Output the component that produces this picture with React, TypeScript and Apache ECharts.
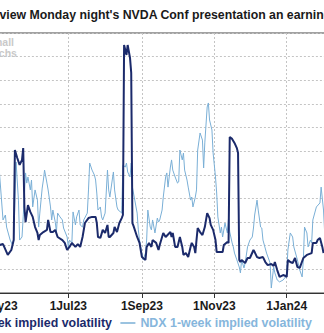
import React, { useEffect, useRef } from 'react';
import * as echarts from 'echarts';

const startDate = '2023-05-01';
const endDate = '2024-02-10';

const seriesNames = ['NVDA 1-week implied volatility', 'NDX 1-week implied volatility'];
const titleText = "Options preview Monday night's NVDA Conf presentation an earnings";
const watermarkText = 'Small\nSachs';
const monthAbbr = ['Jan', 'Feb', 'Mar', 'Apr', 'May', 'Jun', 'Jul', 'Aug', 'Sep', 'Oct', 'Nov', 'Dec'];

const nvdaDates = [
  '2023-05-04', '2023-05-07', '2023-05-11', '2023-05-14', '2023-05-16', '2023-05-17', '2023-05-19', '2023-05-21',
  '2023-05-23', '2023-05-24', '2023-05-25', '2023-05-26', '2023-05-28', '2023-05-30', '2023-06-01', '2023-06-03',
  '2023-06-05', '2023-06-06', '2023-06-07', '2023-06-10', '2023-06-13', '2023-06-14', '2023-06-16', '2023-06-18',
  '2023-06-20', '2023-06-22', '2023-06-26', '2023-06-28', '2023-06-30', '2023-07-02', '2023-07-04', '2023-07-07',
  '2023-07-09', '2023-07-11', '2023-07-13', '2023-07-15', '2023-07-18', '2023-07-21', '2023-07-24', '2023-07-25',
  '2023-07-26', '2023-07-28', '2023-07-30', '2023-08-01', '2023-08-03', '2023-08-04', '2023-08-05', '2023-08-08',
  '2023-08-09', '2023-08-11', '2023-08-13', '2023-08-15', '2023-08-16', '2023-08-17', '2023-08-19', '2023-08-20',
  '2023-08-22', '2023-08-23', '2023-08-24', '2023-08-25', '2023-08-28', '2023-08-30', '2023-09-01', '2023-09-04',
  '2023-09-05', '2023-09-07', '2023-09-09', '2023-09-10', '2023-09-13', '2023-09-15', '2023-09-16', '2023-09-19',
  '2023-09-21', '2023-09-25', '2023-09-26', '2023-09-27', '2023-09-29', '2023-10-01', '2023-10-03', '2023-10-05',
  '2023-10-06', '2023-10-08', '2023-10-10', '2023-10-12', '2023-10-13', '2023-10-15', '2023-10-16', '2023-10-17',
  '2023-10-18', '2023-10-20', '2023-10-22', '2023-10-24', '2023-10-26', '2023-10-28', '2023-10-29', '2023-10-31',
  '2023-11-02', '2023-11-03', '2023-11-08', '2023-11-09', '2023-11-12', '2023-11-13', '2023-11-14', '2023-11-16',
  '2023-11-18', '2023-11-20', '2023-11-21', '2023-11-22', '2023-11-23', '2023-11-24', '2023-11-27', '2023-11-29',
  '2023-12-01', '2023-12-04', '2023-12-05', '2023-12-07', '2023-12-09', '2023-12-12', '2023-12-14', '2023-12-16',
  '2023-12-19', '2023-12-21', '2023-12-22', '2023-12-24', '2023-12-26', '2023-12-29', '2023-12-31', '2024-01-01',
  '2024-01-02', '2024-01-04', '2024-01-06', '2024-01-08', '2024-01-10', '2024-01-12', '2024-01-15', '2024-01-18',
  '2024-01-22', '2024-01-23', '2024-01-26', '2024-01-27', '2024-01-29', '2024-01-31', '2024-02-01',
];
const nvdaValues = [
  20.3, 20.7, 16.1, 18.2, 22.4, 60.5, 57.1, 54.2,
  56.3, 61.3, 36.4, 30.0, 37.2, 34.3, 32.2, 27.9,
  25.4, 22.4, 24.5, 25.8, 26.7, 30.9, 25.8, 25.8,
  26.7, 23.7, 22.4, 21.2, 18.2, 19.5, 21.2, 19.5,
  20.7, 19.5, 23.7, 29.6, 31.7, 32.2, 32.2, 29.6,
  23.7, 23.3, 26.7, 25.4, 28.8, 23.7, 23.7, 25.4,
  27.9, 25.8, 29.6, 31.7, 33.0, 104.9, 100.7, 104.9,
  99.4, 93.1, 29.6, 28.3, 23.7, 21.2, 15.2, 14.0,
  19.5, 21.2, 19.5, 22.4, 21.2, 18.2, 20.3, 25.4,
  23.7, 25.8, 23.7, 25.4, 19.5, 19.5, 23.7, 19.5,
  16.1, 16.9, 15.2, 19.5, 21.2, 19.5, 16.9, 22.4,
  27.5, 25.8, 24.5, 27.9, 33.8, 31.7, 28.8, 26.7,
  22.4, 17.3, 17.3, 20.3, 21.6, 21.2, 66.0, 65.2,
  63.5, 61.3, 59.2, 14.0, 13.1, 14.0, 12.7, 14.8,
  14.8, 18.2, 17.3, 15.2, 14.8, 15.2, 13.1, 11.8,
  12.3, 11.4, 13.1, 9.7, 6.8, 7.6, 7.2, 6.8,
  14.0, 13.1, 12.7, 14.8, 11.0, 10.6, 14.8, 16.1,
  16.9, 21.2, 21.2, 22.4, 23.3, 19.5, 16.9,
];

const ndxDates = [
  '2023-05-04', '2023-05-07', '2023-05-09', '2023-05-10', '2023-05-13', '2023-05-15', '2023-05-16', '2023-05-18',
  '2023-05-20', '2023-05-21', '2023-05-23', '2023-05-24', '2023-05-26', '2023-05-27', '2023-05-28', '2023-05-30',
  '2023-05-31', '2023-06-01', '2023-06-03', '2023-06-05', '2023-06-06', '2023-06-07', '2023-06-09', '2023-06-10',
  '2023-06-11', '2023-06-13', '2023-06-14', '2023-06-16', '2023-06-17', '2023-06-18', '2023-06-20', '2023-06-21',
  '2023-06-22', '2023-06-24', '2023-06-26', '2023-06-27', '2023-06-30', '2023-07-01', '2023-07-02', '2023-07-04',
  '2023-07-05', '2023-07-07', '2023-07-08', '2023-07-10', '2023-07-11', '2023-07-13', '2023-07-14', '2023-07-17',
  '2023-07-18', '2023-07-19', '2023-07-21', '2023-07-23', '2023-07-24', '2023-07-25', '2023-07-26', '2023-07-28',
  '2023-07-29', '2023-07-30', '2023-08-01', '2023-08-03', '2023-08-04', '2023-08-05', '2023-08-07', '2023-08-08',
  '2023-08-09', '2023-08-11', '2023-08-12', '2023-08-14', '2023-08-15', '2023-08-16', '2023-08-18', '2023-08-19',
  '2023-08-20', '2023-08-22', '2023-08-23', '2023-08-24', '2023-08-26', '2023-08-28', '2023-08-29', '2023-08-30',
  '2023-09-01', '2023-09-02', '2023-09-04', '2023-09-05', '2023-09-06', '2023-09-08', '2023-09-09', '2023-09-10',
  '2023-09-12', '2023-09-14', '2023-09-15', '2023-09-16', '2023-09-18', '2023-09-19', '2023-09-21', '2023-09-22',
  '2023-09-23', '2023-09-25', '2023-09-26', '2023-09-27', '2023-09-29', '2023-10-01', '2023-10-02', '2023-10-03',
  '2023-10-05', '2023-10-06', '2023-10-07', '2023-10-09', '2023-10-10', '2023-10-12', '2023-10-13', '2023-10-14',
  '2023-10-16', '2023-10-17', '2023-10-18', '2023-10-20', '2023-10-22', '2023-10-23', '2023-10-24', '2023-10-26',
  '2023-10-27', '2023-10-28', '2023-10-30', '2023-10-31', '2023-11-02', '2023-11-03', '2023-11-04', '2023-11-06',
  '2023-11-07', '2023-11-08', '2023-11-10', '2023-11-12', '2023-11-13', '2023-11-14', '2023-11-16', '2023-11-17',
  '2023-11-18', '2023-11-20', '2023-11-22', '2023-11-23', '2023-11-24', '2023-11-26', '2023-11-27', '2023-11-29',
  '2023-12-01', '2023-12-03', '2023-12-04', '2023-12-05', '2023-12-07', '2023-12-08', '2023-12-10', '2023-12-11',
  '2023-12-12', '2023-12-15', '2023-12-18', '2023-12-19', '2023-12-21', '2023-12-22', '2023-12-24', '2023-12-26',
  '2023-12-29', '2023-12-31', '2024-01-01', '2024-01-02', '2024-01-04', '2024-01-06', '2024-01-07', '2024-01-10',
  '2024-01-12', '2024-01-14', '2024-01-15', '2024-01-16', '2024-01-18', '2024-01-19', '2024-01-21', '2024-01-22',
  '2024-01-23', '2024-01-26', '2024-01-29', '2024-01-30', '2024-02-01', '2024-02-02',
];
const ndxValues = [
  50.8, 30.9, 33.0, 27.9, 22.4, 20.3, 22.4, 55.4,
  39.3, 22.4, 23.7, 32.2, 50.8, 46.5, 49.1, 43.6,
  47.8, 36.4, 43.6, 39.3, 27.9, 33.8, 44.4, 47.8,
  52.0, 46.5, 43.6, 36.4, 30.9, 35.1, 30.0, 25.8,
  33.8, 32.2, 30.9, 27.5, 23.7, 19.5, 22.4, 21.2,
  34.3, 28.8, 32.2, 35.1, 28.8, 27.9, 30.9, 33.8,
  43.6, 55.0, 52.0, 49.9, 47.8, 42.3, 35.1, 36.4,
  32.2, 30.9, 33.8, 52.0, 43.6, 40.6, 47.8, 51.2,
  43.6, 36.4, 35.1, 34.3, 33.8, 54.2, 53.3, 55.0,
  51.2, 49.1, 55.0, 44.8, 39.3, 33.8, 26.7, 22.4,
  16.9, 14.0, 16.9, 22.4, 35.1, 27.9, 26.7, 30.9,
  25.4, 31.7, 30.0, 30.9, 35.1, 40.6, 49.1, 50.8,
  44.8, 53.3, 56.3, 52.0, 49.1, 46.5, 47.0, 60.5,
  56.3, 59.2, 52.0, 47.8, 44.8, 39.3, 40.6, 36.4,
  40.6, 43.6, 60.5, 67.7, 64.7, 52.9, 63.5, 78.7,
  80.4, 73.2, 69.0, 59.2, 49.1, 42.3, 32.2, 25.4,
  27.9, 23.7, 29.6, 25.4, 31.7, 25.8, 21.2, 19.5,
  16.9, 14.0, 11.0, 8.5, 14.0, 10.6, 12.7, 19.5,
  22.4, 23.7, 27.5, 33.0, 39.3, 35.1, 27.9, 27.5,
  22.4, 16.9, 12.7, 2.1, 11.0, 8.5, 5.5, 4.7,
  5.5, 6.8, 8.5, 18.2, 25.4, 23.7, 19.5, 14.0,
  9.7, 6.8, 14.0, 27.9, 25.4, 19.5, 22.4, 21.2,
  30.9, 36.4, 38.1, 44.8, 35.1, 25.4,
];

const NAVY = '#1b2a6b';
const LIGHT = '#7aafd6';
const LEGEND_LIGHT = '#86b6dc';
const FONT = '"Liberation Sans", Arial, Helvetica, sans-serif';

const OFFSET = 100;
const CANVAS_W = 470;
const PX_PER_DAY = 1.187;

function buildCategories(): string[] {
  const out: string[] = [];
  const d = new Date(startDate + 'T00:00:00Z');
  const end = new Date(endDate + 'T00:00:00Z');
  while (d.getTime() <= end.getTime()) {
    out.push(d.toISOString().slice(0, 10));
    d.setUTCDate(d.getUTCDate() + 1);
  }
  return out;
}

function isTickDate(s: string): boolean {
  const parts = s.split('-').map(Number);
  return parts[2] === 1 && parts[1] % 2 === 1;
}

function formatDate(s: string): string {
  const parts = s.split('-').map(Number);
  return `${parts[2]}${monthAbbr[parts[1] - 1]}${String(parts[0]).slice(2)}`;
}

function align(categories: string[], dates: string[], values: number[]) {
  const m = new Map<string, number>();
  dates.forEach((d, i) => m.set(d, values[i]));
  return categories.map((c) => (m.has(c) ? (m.get(c) as number) : null));
}

export default function App() {
  const ref = useRef<HTMLDivElement>(null);
  useEffect(() => {
    if (!ref.current) return;
    const chart = echarts.init(ref.current, null, { renderer: 'svg' });
    const categories = buildCategories();
    const tickFn = (_i: number, v: string) => isTickDate(v);
    const gridWidth = (categories.length - 1) * PX_PER_DAY;
    chart.setOption({
      animation: false,
      backgroundColor: '#ffffff',
      title: {
        text: titleText,
        left: 25.5,
        top: 4,
        textStyle: { fontSize: 12.3, fontWeight: 'bold', color: '#1a1a1a', fontFamily: FONT },
      },
      graphic: [
        {
          type: 'text',
          x: 86,
          y: 36,
          style: {
            text: watermarkText,
            fontSize: 10.5,
            fontWeight: 'bold',
            fill: '#c9c9c9',
            lineHeight: 11,
            fontFamily: FONT,
          },
        },
      ],
      legend: {
        left: 7,
        top: 312,
        itemWidth: 15,
        itemHeight: 1.5,
        itemGap: 8,
        textStyle: { fontSize: 12.4, fontWeight: 'bold', fontFamily: FONT },
        data: [
          { name: seriesNames[0], icon: 'rect', textStyle: { color: NAVY } },
          { name: seriesNames[1], icon: 'rect', textStyle: { color: LEGEND_LIGHT } },
        ],
      },
      grid: {
        left: OFFSET - 4.1,
        top: 33,
        width: gridWidth,
        height: 260,
        show: true,
        borderColor: '#444444',
        borderWidth: 1,
        backgroundColor: 'transparent',
      },
      xAxis: {
        type: 'category',
        data: categories,
        boundaryGap: false,
        axisLine: { lineStyle: { color: '#333333', width: 1 } },
        axisTick: { interval: tickFn, length: 5, lineStyle: { color: '#333333' } },
        axisLabel: {
          interval: tickFn,
          formatter: (v: string) => formatDate(v),
          fontSize: 12,
          fontWeight: 'bold',
          color: '#1a1a1a',
          fontFamily: FONT,
          margin: 7,
        },
        splitLine: { show: true, interval: tickFn, lineStyle: { color: '#c4c4c4', type: [2, 2] } },
      },
      yAxis: {
        type: 'value',
        min: 0,
        max: 110,
        interval: 10,
        axisLine: { show: false },
        axisTick: { show: false },
        axisLabel: { show: false },
        splitLine: { lineStyle: { color: '#c4c4c4', type: [2, 2] } },
      },
      series: [
        {
          name: seriesNames[0],
          type: 'line',
          data: align(categories, nvdaDates, nvdaValues),
          connectNulls: true,
          symbol: 'none',
          showSymbol: false,
          lineStyle: { color: NAVY, width: 2 },
          itemStyle: { color: NAVY },
          z: 3,
        },
        {
          name: seriesNames[1],
          type: 'line',
          data: align(categories, ndxDates, ndxValues),
          connectNulls: true,
          symbol: 'none',
          showSymbol: false,
          lineStyle: { color: LIGHT, width: 1 },
          itemStyle: { color: LIGHT },
          z: 2,
        },
      ],
    });
    return () => chart.dispose();
  }, []);
  return (
    <div
      style={{
        position: 'fixed',
        left: 0,
        top: 0,
        width: 324,
        height: 333,
        overflow: 'hidden',
        background: '#ffffff',
      }}
    >
      <div ref={ref} style={{ position: 'absolute', left: -OFFSET, top: 0, width: CANVAS_W, height: 333 }} />
    </div>
  );
}
